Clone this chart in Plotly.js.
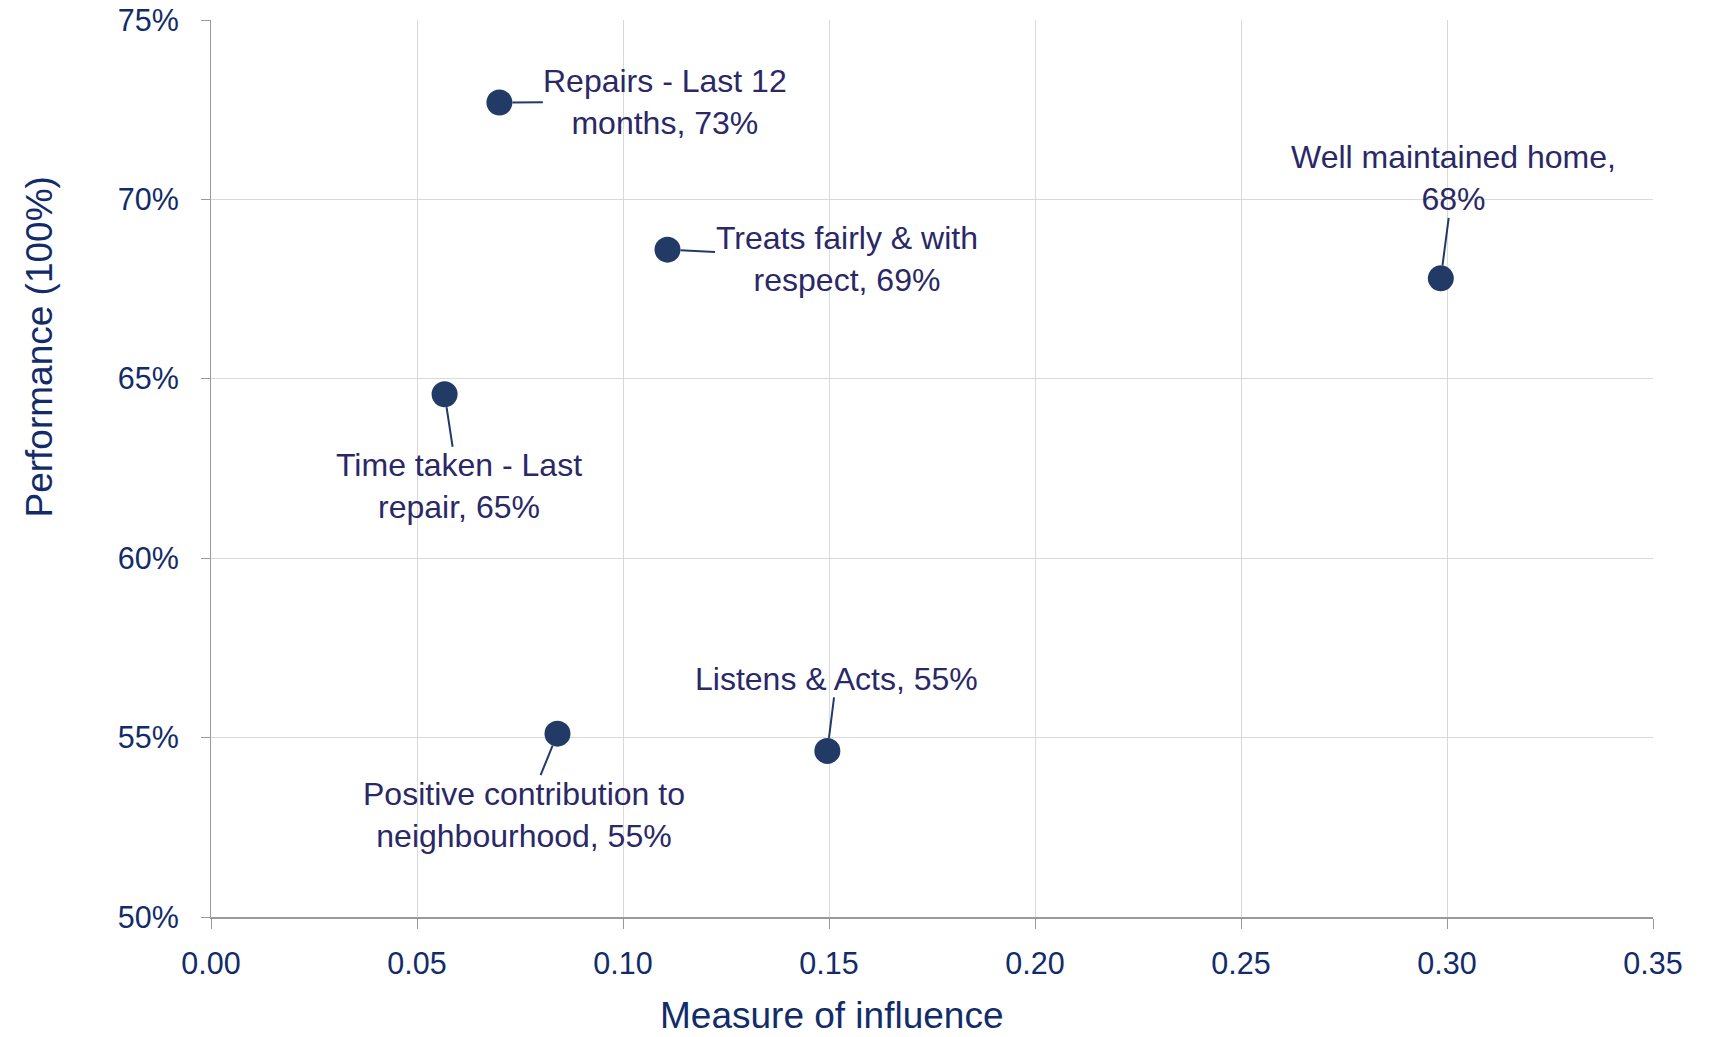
<!DOCTYPE html>
<html>
<head>
<meta charset="utf-8">
<script src="https://cdn.plot.ly/plotly-3.0.1.min.js"></script>
<style>html,body{margin:0;padding:0;background:#fff;}#chart{width:1713px;height:1037px;}</style>
</head>
<body>
<div id="chart"></div>
<script>
// Data
const labels = [
  "Repairs - Last 12<br>months, 73%",
  "Treats fairly & with<br>respect, 69%",
  "Well maintained home,<br>68%",
  "Time taken - Last<br>repair, 65%",
  "Listens & Acts, 55%",
  "Positive contribution to<br>neighbourhood, 55%"
];
const influence = [0.0700, 0.1108, 0.2985, 0.0567, 0.1496, 0.0841];
const performance = [0.727, 0.686, 0.678, 0.6457, 0.5463, 0.5511];
// label offsets (px) relative to point
const labelDx = [166, 179, 13, 14, 9, -33];
const labelDy = [-1, 9, -100, 92, -72, 81];

const markerColor = "#213a66";
const axisTextColor = "#122c6a";
const labelColor = "#2a2866";
const fontFamily = "'Liberation Sans', Arial, sans-serif";

const trace = {
  type: "scatter",
  mode: "markers",
  x: influence,
  y: performance,
  marker: {size: 26, color: markerColor, line: {width: 0}},
  hoverinfo: "skip",
  showlegend: false
};

const annotations = labels.map((t, i) => ({
  x: influence[i],
  y: performance[i],
  xref: "x",
  yref: "y",
  text: t,
  showarrow: true,
  arrowhead: 0,
  arrowwidth: 2,
  arrowcolor: markerColor,
  standoff: 13,
  ax: labelDx[i],
  ay: labelDy[i],
  borderpad: 0,
  font: {family: fontFamily, size: 32, color: labelColor},
  align: "center"
}));

annotations.push({
  xref: "paper", yref: "paper",
  x: (831.7 - 211) / 1442, y: (917 - 1016) / 897,
  xanchor: "center", yanchor: "middle",
  text: "Measure of influence",
  showarrow: false,
  font: {family: fontFamily, size: 37, color: axisTextColor}
});
annotations.push({
  xref: "paper", yref: "paper",
  x: (39 - 211) / 1442, y: (917 - 347.5) / 897,
  xanchor: "center", yanchor: "middle",
  textangle: -90,
  text: "Performance (100%)",
  showarrow: false,
  font: {family: fontFamily, size: 37, color: axisTextColor}
});

const layout = {
  width: 1713,
  height: 1037,
  margin: {l: 211, r: 60, t: 20, b: 120, pad: 0},
  paper_bgcolor: "#ffffff",
  plot_bgcolor: "#ffffff",
  font: {family: fontFamily, color: axisTextColor},
  xaxis: {
    range: [0, 0.35],
    dtick: 0.05,
    tick0: 0,
    tickformat: ".2f",
    showgrid: true,
    gridcolor: "#d9d9d9",
    gridwidth: 1,
    zeroline: false,
    showline: true,
    linecolor: "#9a9a9a",
    linewidth: 2,
    ticks: "outside",
    ticklen: 10,
    tickcolor: "#9a9a9a",
    tickwidth: 1,
    ticklabelstandoff: 8,
    tickfont: {family: fontFamily, size: 30.5, color: axisTextColor},
    fixedrange: true
  },
  yaxis: {
    range: [0.5, 0.75],
    dtick: 0.05,
    tick0: 0.5,
    tickformat: ".0%",
    showgrid: true,
    gridcolor: "#d9d9d9",
    gridwidth: 1,
    zeroline: false,
    showline: true,
    linecolor: "#9a9a9a",
    linewidth: 1,
    ticks: "outside",
    ticklen: 9,
    tickcolor: "#9a9a9a",
    tickwidth: 1,
    ticklabelstandoff: 16,
    tickfont: {family: fontFamily, size: 30.5, color: axisTextColor},
    fixedrange: true
  },
  annotations: annotations,
  showlegend: false
};

Plotly.newPlot("chart", [trace], layout, {displayModeBar: false, staticPlot: true});
</script>
</body>
</html>
